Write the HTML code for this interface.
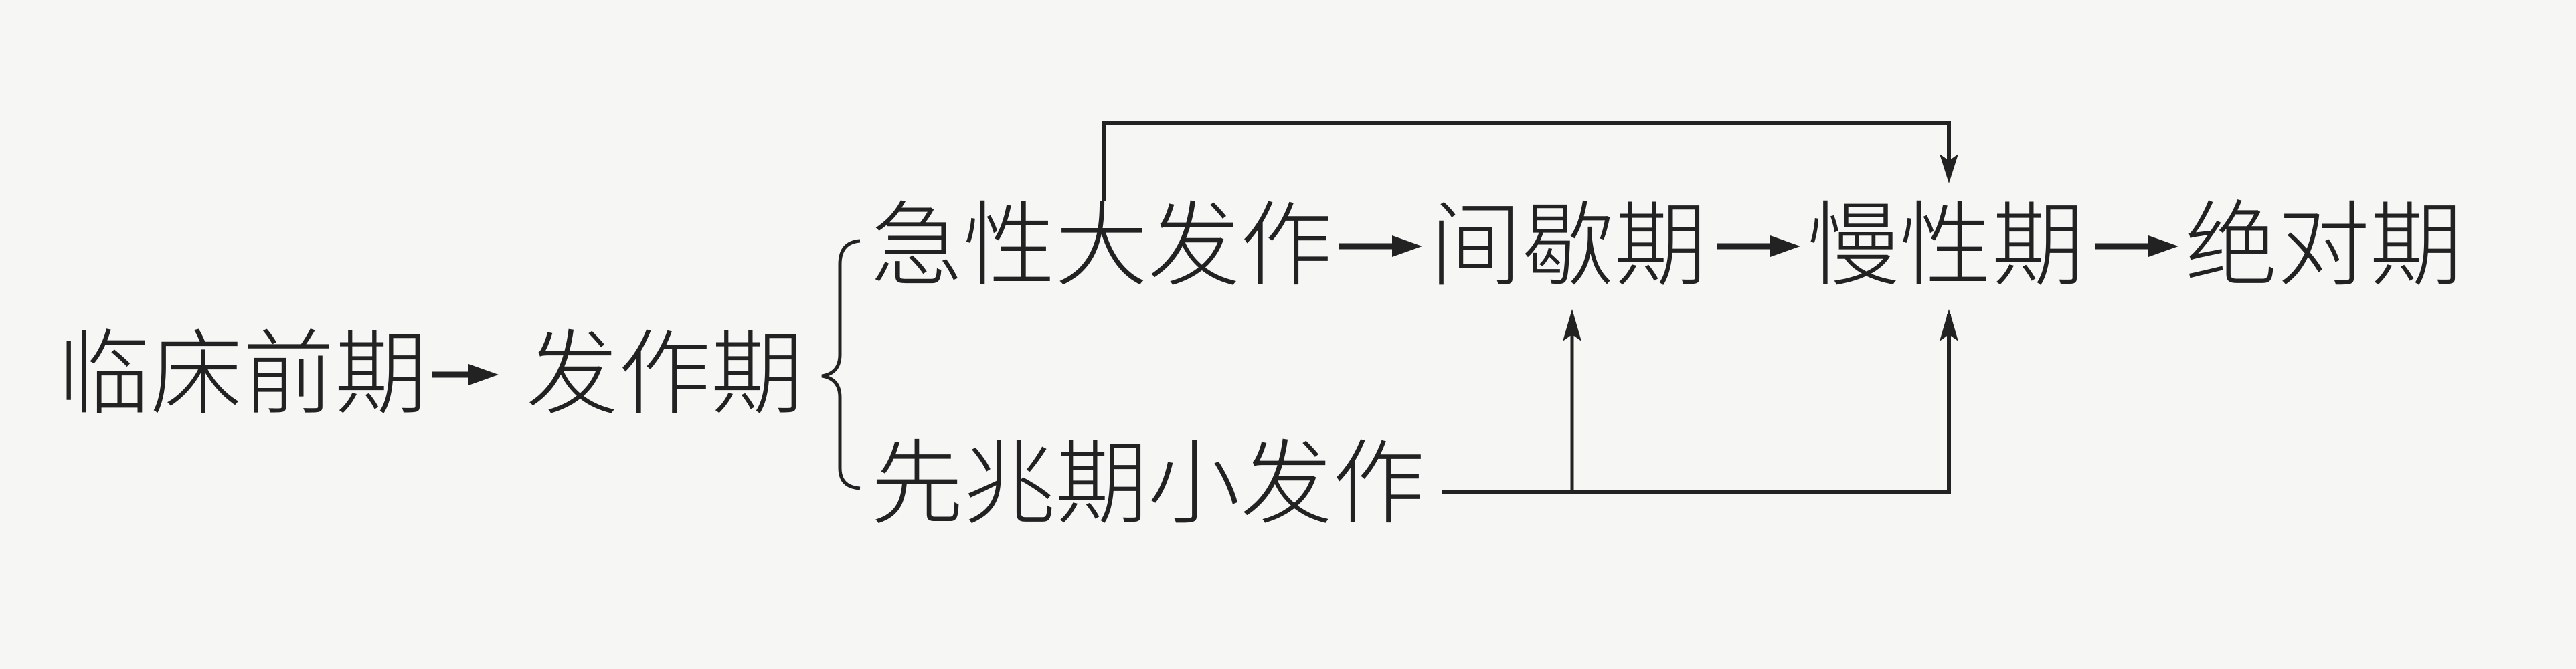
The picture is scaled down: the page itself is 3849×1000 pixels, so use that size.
<!DOCTYPE html>
<html><head><meta charset="utf-8"><style>
html,body{margin:0;padding:0;background:#f6f6f5;}
svg{display:block}
text{font-family:"Liberation Sans","Noto Sans CJK SC",sans-serif;font-size:138px;fill:#222;font-weight:300;dominant-baseline:central}
</style></head><body>
<svg width="3849" height="1000" viewBox="0 0 3849 1000" xmlns="http://www.w3.org/2000/svg">
<g stroke="#222" fill="none">
<line x1="645" y1="560" x2="720" y2="560" stroke-width="9"/>
<line x1="2001" y1="368" x2="2100" y2="368" stroke-width="9"/>
<line x1="2565" y1="368" x2="2665" y2="368" stroke-width="9"/>
<line x1="3130" y1="368" x2="3230" y2="368" stroke-width="9"/>
<path d="M1285 360 Q1255 362 1255 395 L1255 530 Q1255 558 1228 562 Q1255 566 1255 594 L1255 700 Q1255 728 1285 730" stroke-width="5"/>
<polyline points="1650,300 1650,184 2912,184 2912,262" stroke-width="6"/>
<polyline points="2155,736 2912,736 2912,470" stroke-width="6"/>
<line x1="2349" y1="736" x2="2349" y2="470" stroke-width="5"/>
</g>
<g fill="#222">
<polygon points="700,544 745,560 700,576"/>
<polygon points="2080,352 2125,368 2080,384"/>
<polygon points="2645,352 2690,368 2645,384"/>
<polygon points="3210,352 3255,368 3210,384"/>
<polygon points="2898,230 2912,274 2926,230 2912,240"/>
<polygon points="2335,510 2349,462 2363,510 2349,500"/>
<polygon points="2898,510 2912,462 2926,510 2912,500"/>
</g>
<text x="86" y="560">临床前期</text>
<text x="786" y="560">发作期</text>
<text x="1301" y="368">急性大发作</text>
<text x="2136" y="368">间歇期</text>
<text x="2700" y="368">慢性期</text>
<text x="3265" y="368">绝对期</text>
<text x="1301" y="724">先兆期小发作</text>
</svg>
</body></html>
